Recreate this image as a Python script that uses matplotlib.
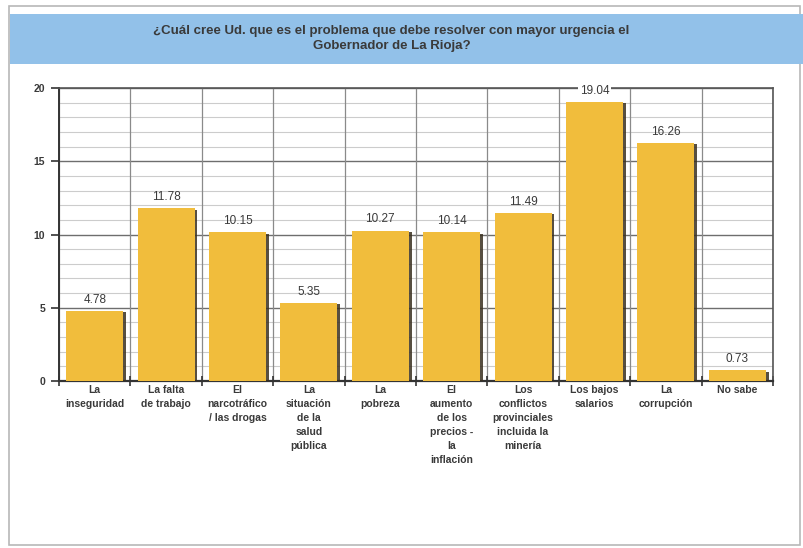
import matplotlib.pyplot as plt
import matplotlib.patheffects as pe
from matplotlib.patches import Rectangle
import numpy as np

# Data
categories = [
    "La\ninseguridad",
    "La falta\nde trabajo",
    "El\nnarcotráfico\n/ las drogas",
    "La\nsituación\nde la\nsalud\npública",
    "La\npobreza",
    "El\naumento\nde los\nprecios -\nla\ninflación",
    "Los\nconflictos\nprovinciales\nincluida la\nminería",
    "Los bajos\nsalarios",
    "La\ncorrupción",
    "No sabe",
]
values = [4.78, 11.78, 10.15, 5.35, 10.27, 10.14, 11.49, 19.04, 16.26, 0.73]
title = "¿Cuál cree Ud. que es el problema que debe resolver con mayor urgencia el\nGobernador de La Rioja?"

bar_color = "#f1bd3c"
text_color = "#3a3a3a"

plt.rcParams['font.family'] = ['Liberation Sans', 'DejaVu Sans']

fig = plt.figure(figsize=(8.04, 5.48), dpi=100)
fig.patch.set_facecolor("white")

# outer frame and title band
fig.patches.append(Rectangle((0.011, 0.006), 0.984, 0.983, transform=fig.transFigure,
                             fill=False, edgecolor="#b8b8b8", lw=1.2, zorder=0))
fig.patches.append(Rectangle((0.013, 0.883), 0.987, 0.092, transform=fig.transFigure,
                             facecolor="#92c1e9", edgecolor="none", zorder=1))
fig.text(0.487, 0.93, title, ha="center", va="center", fontsize=9.5,
         fontweight="bold", color=text_color, linespacing=1.35)

ax = fig.add_axes([0.0734, 0.3047, 0.888, 0.5347])
x = np.arange(len(values))

# grid: minor every unit, major every 5
for y in range(0, 21):
    if y % 5 == 0:
        ax.axhline(y, color="#6e6e6e", lw=1.0, zorder=1)
    else:
        ax.axhline(y, color="#cccccc", lw=0.8, zorder=1)
for b in np.arange(-0.5, len(values) + 0.5, 1):
    ax.axvline(b, color="#8a8a8a", lw=0.9, zorder=1)

bars = ax.bar(x, values, width=0.8, color=bar_color, zorder=3)
for bar in bars:
    bar.set_path_effects([pe.SimplePatchShadow(offset=(2, -1), shadow_rgbFace="#3a3020", alpha=0.85),
                          pe.Normal()])

for xi, v in zip(x, values):
    ax.text(xi, v + 0.35, f"{v:.2f}", ha="center", va="bottom", fontsize=8.5,
            color=text_color, zorder=5,
            bbox=dict(facecolor="white", edgecolor="none", pad=1.5) if v > 18 else None)

ax.set_xlim(-0.5, len(values) - 0.5)
ax.set_ylim(0, 20)
ax.set_yticks([0, 5, 10, 15, 20])
ax.set_yticklabels(["0", "5", "10", "15", "20"], fontsize=7.5, fontweight="bold", color=text_color)
ax.set_xticks(np.arange(-0.5, len(values) + 0.5, 1))
ax.set_xticklabels([])
ax.set_xticks(x, minor=True)
ax.set_xticklabels(categories, minor=True, fontsize=7.5, fontweight="bold",
                   color=text_color, linespacing=1.5, va="top")
ax.tick_params(axis="x", which="major", length=7, width=1.2, color="#333333", direction="inout")
ax.tick_params(axis="x", which="minor", length=0, pad=3)
ax.tick_params(axis="y", length=6, width=1.2, color="#333333", pad=4)

for side in ["top", "right"]:
    ax.spines[side].set_color("#555555")
    ax.spines[side].set_linewidth(1.2)
ax.spines["left"].set_color("#333333")
ax.spines["left"].set_linewidth(1.4)
ax.spines["bottom"].set_color("#333333")
ax.spines["bottom"].set_linewidth(1.6)
ax.set_facecolor("white")

fig.savefig("out.png", dpi=100)
